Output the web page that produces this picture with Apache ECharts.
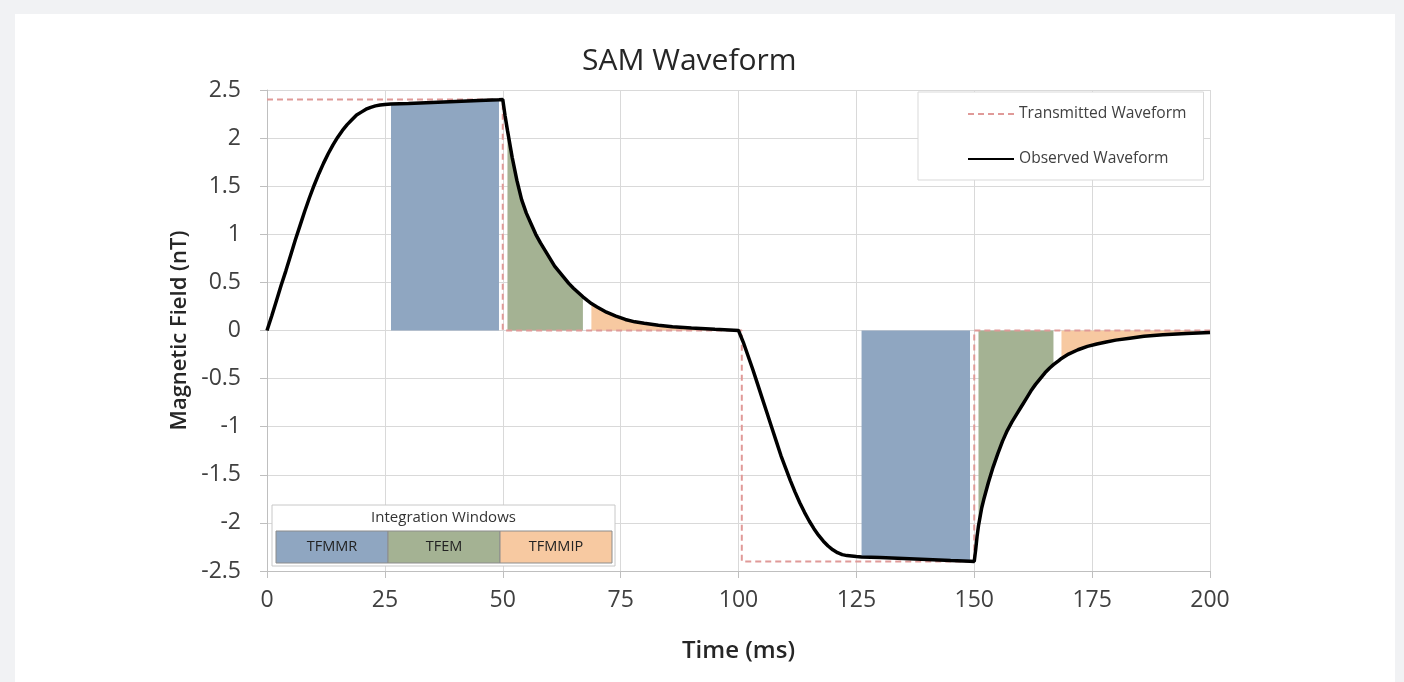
<!DOCTYPE html>
<html>
<head>
<meta charset="utf-8">
<script src="https://cdn.jsdelivr.net/npm/echarts@6/dist/echarts.min.js"></script>
<style>
html,body{margin:0;padding:0;width:1404px;height:682px;background:#f1f2f4;overflow:hidden;}
#card{position:absolute;left:15px;top:14px;width:1380px;height:668px;background:#fff;}
#chart{position:absolute;left:0;top:0;width:1404px;height:682px;}
</style>
</head>
<body>
<div id="card"></div>
<div id="chart"></div>
<script>
// ---- data ----
const observedT = [0,1,2,3,4,5,6,7,8,9,10,11,12,13,14,15,16,17,18,19,20,21,22,23,24,25,26.3,30,35,40,45,49.2,50,
  50.5,51,52,53,54,55,56,57,58,59,60,61,62,63,64,65,66,67,68,68.8,70,72,74,76,78,80,83,86,90,95,100,
  101,102,103,104,105,106,107,108,109,110,111,112,113,114,115,116,117,118,119,120,121,122,123,124,125,126.1,130,135,140,145,149.1,150,
  150.3,150.6,150.9,151.3,151.6,152,153,154,155,156,157,158,159,160,161,162,163,164,165,166,166.8,168,168.5,170,172,174,176,178,180,183,186,190,195,200];
const observedB = [0,0.15,0.31,0.47,0.62,0.78,0.94,1.09,1.24,1.38,1.51,1.63,1.74,1.84,1.93,2.01,2.08,2.14,2.19,2.24,2.27,2.30,2.32,2.335,2.345,2.35,2.355,2.36,2.37,2.38,2.39,2.398,2.40,
  2.23,2.08,1.80,1.56,1.36,1.22,1.11,1.00,0.91,0.83,0.75,0.67,0.61,0.55,0.49,0.44,0.395,0.35,0.31,0.28,0.245,0.19,0.15,0.115,0.09,0.075,0.055,0.04,0.025,0.012,0,
  -0.12,-0.26,-0.40,-0.55,-0.70,-0.85,-1.00,-1.15,-1.30,-1.43,-1.56,-1.68,-1.79,-1.89,-1.98,-2.06,-2.13,-2.19,-2.24,-2.28,-2.31,-2.33,-2.34,-2.345,-2.35,-2.355,-2.36,-2.37,-2.38,-2.39,-2.398,-2.40,
  -2.28,-2.14,-2.03,-1.92,-1.84,-1.76,-1.58,-1.42,-1.28,-1.15,-1.04,-0.95,-0.87,-0.79,-0.71,-0.63,-0.56,-0.50,-0.44,-0.39,-0.355,-0.31,-0.29,-0.245,-0.20,-0.165,-0.14,-0.12,-0.10,-0.08,-0.06,-0.045,-0.03,-0.02];
const transmittedT = [0,50,50,100.7,100.7,150,150,200];
const transmittedB = [2.4,2.4,0,0,-2.4,-2.4,0,0];
const windowNames = ['TFMMR','TFEM','TFMMIP','TFMMR','TFEM','TFMMIP'];
const windowStart = [26.3,51,68.8,126.1,150.9,168.5];
const windowEnd   = [49.2,67,100,149.1,166.8,200];
const legendWindowNames = ['TFMMR','TFEM','TFMMIP'];
// ---- styles ----
const windowColors = {TFMMR:'#8FA6C1', TFEM:'#A4B293', TFMMIP:'#F7C9A1'};
const FONT = '"Open Sans", sans-serif';

const observed = observedT.map((t,i)=>[t, observedB[i]]);
const transmitted = transmittedT.map((t,i)=>[t, transmittedB[i]]);

const windowSeries = windowNames.map((name,k)=>{
  const pts = observed.filter(p => p[0] >= windowStart[k] && p[0] <= windowEnd[k]);
  const data = [[windowStart[k],0]].concat(pts, [[windowEnd[k],0]]);
  return {
    type:'line', name:name+'_'+k, data:data, showSymbol:false, symbol:'none',
    lineStyle:{width:0, opacity:0}, areaStyle:{color:windowColors[name], opacity:1},
    silent:true, z:1, animation:false
  };
});

// integration windows box
const boxX = 272, boxY = 505, boxW = 343, boxH = 61;
const cellX0 = 276, cellY = 531, cellW = 112, cellH = 32;
const graphicEls = [
  {type:'rect', shape:{x:boxX,y:boxY,width:boxW,height:boxH}, style:{fill:'#fff', stroke:'#c8c8c8', lineWidth:1}, z:100},
  {type:'text', x:boxX+boxW/2, y:boxY+13, style:{text:'Integration Windows', font:'15px '+FONT, fill:'#333', align:'center', verticalAlign:'middle'}, z:101}
];
legendWindowNames.forEach((n,i)=>{
  graphicEls.push({type:'rect', shape:{x:cellX0+i*cellW, y:cellY, width:cellW, height:cellH}, style:{fill:windowColors[n], stroke:'#8c8c8c', lineWidth:1}, z:101});
  graphicEls.push({type:'text', x:cellX0+i*cellW+cellW/2, y:cellY+cellH/2, style:{text:n, font:'14.5px '+FONT, fill:'#222', align:'center', verticalAlign:'middle'}, z:102});
});

const chart = echarts.init(document.getElementById('chart'), null, {renderer:'canvas'});
chart.setOption({
  backgroundColor:'transparent',
  animation:false,
  textStyle:{fontFamily:FONT},
  title:{text:'SAM Waveform', left:577, top:41, textStyle:{fontSize:30, fontWeight:'normal', color:'#262626', fontFamily:FONT}},
  grid:{left:267, right:194, top:90, bottom:111, containLabel:false},
  legend:{
    data:['Transmitted Waveform','Observed Waveform'],
    left:918, top:92, orient:'vertical',
    padding:[14,17,13,49], itemGap:29, itemWidth:46, itemHeight:14,
    backgroundColor:'#fff', borderColor:'#d9d9d9', borderWidth:1,
    itemStyle:{opacity:0},
    textStyle:{fontSize:15.6, color:'#404040', fontFamily:FONT},
    selectedMode:false
  },
  xAxis:{
    type:'value', min:0, max:200, interval:25,
    name:'Time (ms)', nameLocation:'middle', nameGap:68,
    nameTextStyle:{fontSize:24, color:'#262626', fontWeight:600, fontFamily:FONT},
    axisLine:{onZero:false, lineStyle:{color:'#bfbfbf'}},
    axisTick:{show:true, length:7, lineStyle:{color:'#bfbfbf'}},
    axisLabel:{fontSize:23, color:'#404040', margin:18, fontFamily:FONT},
    splitLine:{show:true, lineStyle:{color:'#d9d9d9'}}
  },
  yAxis:{
    type:'value', min:-2.5, max:2.5, interval:0.5,
    name:'Magnetic Field (nT)', nameLocation:'middle', nameGap:74,
    nameTextStyle:{fontSize:22, color:'#262626', fontWeight:600, fontFamily:FONT},
    axisLine:{show:true, lineStyle:{color:'#bfbfbf'}},
    axisTick:{show:true, length:7, lineStyle:{color:'#bfbfbf'}},
    axisLabel:{fontSize:23, color:'#404040', margin:26, fontFamily:FONT},
    splitLine:{show:true, lineStyle:{color:'#d9d9d9'}}
  },
  graphic:{elements:graphicEls},
  series: windowSeries.concat([
    {type:'line', name:'Transmitted Waveform', data:transmitted, showSymbol:false, symbol:'none',
     lineStyle:{color:'#E09A98', width:2, type:[6,4]}, itemStyle:{color:'#E09A98'}, z:3},
    {type:'line', name:'Observed Waveform', data:observed, showSymbol:false, symbol:'none',
     lineStyle:{color:'#000', width:3.5}, itemStyle:{color:'#000'}, z:4}
  ])
});
</script>
</body>
</html>
